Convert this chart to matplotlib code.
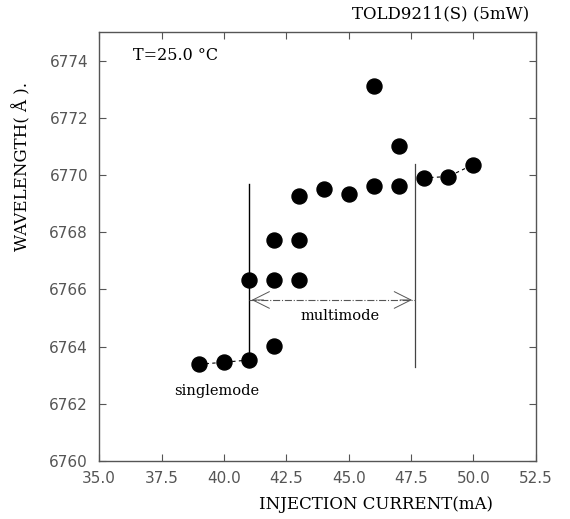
import matplotlib
matplotlib.use("Agg")
import matplotlib.pyplot as plt

# injection current (mA) and wavelength (A)
current = [39, 40, 41, 41, 42, 42, 42, 43, 43, 43, 44, 45, 46, 46, 47, 47, 48, 49, 50]
wavelength = [6763.38, 6763.45, 6763.53, 6766.34, 6764.02, 6766.34, 6767.74,
              6766.34, 6767.74, 6769.27, 6769.52, 6769.33, 6769.62, 6773.1,
              6769.62, 6771.0, 6769.9, 6769.95, 6770.37]

single_x = [39, 40, 41]
single_y = [6763.38, 6763.45, 6763.53]
upper_x = [48, 49, 50]
upper_y = [6769.9, 6769.95, 6770.37]

x_ticks = [35.0, 37.5, 40.0, 42.5, 45.0, 47.5, 50.0, 52.5]
y_ticks = [6760, 6762, 6764, 6766, 6768, 6770, 6772, 6774]

fig = plt.figure(figsize=(5.7, 5.19), dpi=100)
ax = fig.add_axes([0.174, 0.112, 0.766, 0.826])

ax.plot(single_x, single_y, color="black", lw=0.8, ls=(0, (3, 3)))
ax.plot(upper_x, upper_y, color="black", lw=0.8, ls=(0, (3, 3)))
ax.plot(current, wavelength, "o", color="black", markersize=10.8, ls="none")

# mode boundaries
ax.plot([41.0, 41.0], [6763.3, 6769.7], color="black", lw=1.0)
ax.plot([47.65, 47.65], [6763.27, 6770.4], color="#444444", lw=0.9)

# multimode arrow
ax.plot([41.0, 47.65], [6765.63, 6765.63], color="#555555", lw=0.8, ls="-.")
ax.annotate("", xy=(41.0, 6765.63), xytext=(41.7, 6765.63),
            arrowprops=dict(arrowstyle="->,head_length=1.2,head_width=0.6", lw=0.7, color="#555555"))
ax.annotate("", xy=(47.65, 6765.63), xytext=(46.95, 6765.63),
            arrowprops=dict(arrowstyle="->,head_length=1.2,head_width=0.6", lw=0.7, color="#555555"))

ax.text(44.66, 6765.07, "multimode", ha="center", va="center",
        family="DejaVu Serif", fontsize=10.5)
ax.text(39.7, 6762.45, "singlemode", ha="center", va="center",
        family="DejaVu Serif", fontsize=10.5)
ax.text(36.35, 6774.2, "T=25.0 \u00b0C", ha="left", va="center",
        family="DejaVu Serif", fontsize=11.5)

ax.set_xlim(35, 52.5)
ax.set_ylim(6760, 6775)
ax.set_xticks(x_ticks)
ax.set_yticks(y_ticks)
ax.set_xticklabels(["%.1f" % v for v in x_ticks])
ax.set_yticklabels([str(v) for v in y_ticks])
ax.tick_params(direction="in", length=5, width=0.8, color="#555555",
               top=True, right=True, labelsize=11, labelcolor="#555555")
ax.tick_params(axis="x", pad=7)
ax.tick_params(axis="y", pad=8)
for s in ax.spines.values():
    s.set_color("#555555")
    s.set_linewidth(1.0)

fig.text(0.928, 0.973, "TOLD9211(S) (5mW)", ha="right", va="center",
         family="DejaVu Serif", fontsize=12)
fig.text(0.66, 0.027, "INJECTION CURRENT(mA)", ha="center", va="center",
         family="DejaVu Serif", fontsize=12)
fig.text(0.038, 0.68, "WAVELENGTH( \u00c5 ).", ha="center", va="center",
         rotation=90, family="DejaVu Serif", fontsize=12)

fig.savefig("out.png", dpi=100, facecolor="white")
